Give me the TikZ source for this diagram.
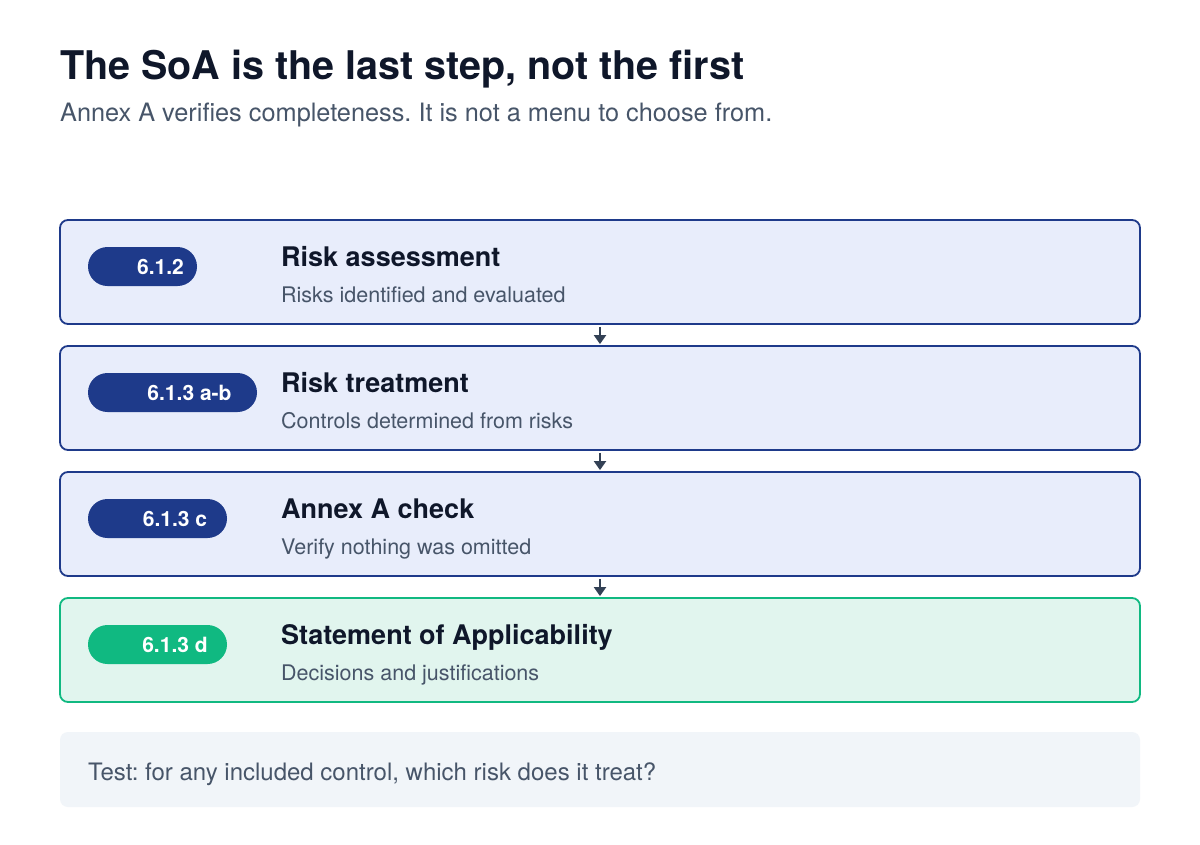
\documentclass[tikz,border=0pt]{standalone}
\usepackage{fontspec}
\setmainfont{TeX Gyre Heros}
\usetikzlibrary{arrows.meta}
\frenchspacing
\definecolor{navy}{HTML}{1E3A8A}
\definecolor{boxfill}{HTML}{E8EDFB}
\definecolor{ink}{HTML}{0F172A}
\definecolor{slate}{HTML}{475569}
\definecolor{emer}{HTML}{10B981}
\definecolor{greenfill}{HTML}{E1F5EE}
\definecolor{notefill}{HTML}{F1F5F9}
\definecolor{arrowc}{HTML}{334155}
\tikzset{
  stepbox/.style={draw=navy, fill=boxfill, line width=1.8pt, rounded corners=8pt,
    minimum width=1080pt, minimum height=104pt, inner sep=0pt},
  soabox/.style={stepbox, draw=emer, fill=greenfill},
  pill/.style={fill=navy, rounded corners=19.5pt, inner sep=0pt, minimum height=39pt},
  pillg/.style={pill, fill=emer},
  pilltext/.style={text=white, font=\bfseries\fontsize{21}{25}\selectfont, inner sep=0pt, anchor=base},
  steptitle/.style={text=ink, font=\bfseries\fontsize{27}{32}\selectfont, inner sep=0pt, anchor=base west},
  stepsub/.style={text=slate, font=\fontsize{21.5}{26}\selectfont, inner sep=0pt, anchor=base west},
  flow/.style={draw=arrowc, line width=2pt, -{Triangle[width=12pt,length=9pt]}, shorten >=1pt, shorten <=2pt}
}
\begin{document}
\begin{tikzpicture}[x=1pt,y=-1pt]
\useasboundingbox[fill=white] (0,0) rectangle (1200,844);
% title
\node[text=ink, font=\bfseries\fontsize{39.5}{47}\selectfont, inner sep=0pt, anchor=base west] (title) at (60,79) {The SoA is the last step, not the first};
\node[text=slate, font=\fontsize{25.3}{30}\selectfont, inner sep=0pt, anchor=base west] (subtitle) at (60,121) {Annex A verifies completeness. It is not a menu to choose from.};
% boxes
\node[stepbox] (b1) at (600,272) {};
\node[stepbox] (b2) at (600,398) {};
\node[stepbox] (b3) at (600,524) {};
\node[soabox]  (b4) at (600,650) {};
% pills
\node[pill, minimum width=109pt] (p1) at (142.5,266.5) {};
\node[pilltext] (p1t) at (160.5,274) {6.1.2};
\node[pill, minimum width=169pt] (p2) at (172.5,392.5) {};
\node[pilltext] (p2t) at (189.5,400) {6.1.3 a-b};
\node[pill, minimum width=139pt] (p3) at (157.5,518.5) {};
\node[pilltext] (p3t) at (175,526) {6.1.3 c};
\node[pillg, minimum width=139pt] (p4) at (157.5,644.5) {};
\node[pilltext] (p4t) at (175,652) {6.1.3 d};
% texts
\node[steptitle] (t1) at (281,266) {Risk assessment};
\node[stepsub]   (s1) at (281,302) {Risks identified and evaluated};
\node[steptitle] (t2) at (281,392) {Risk treatment};
\node[stepsub]   (s2) at (281,428) {Controls determined from risks};
\node[steptitle] (t3) at (281,518) {Annex A check};
\node[stepsub]   (s3) at (281,554) {Verify nothing was omitted};
\node[steptitle] (t4) at (281,644) {Statement of Applicability};
\node[stepsub]   (s4) at (281,680) {Decisions and justifications};
% arrows
\draw[flow] (b1.south) -- (b2.north);
\draw[flow] (b2.south) -- (b3.north);
\draw[flow] (b3.south) -- (b4.north);
% note
\node[fill=notefill, rounded corners=8pt, minimum width=1080pt, minimum height=75pt, inner sep=0pt] (note) at (600,769.5) {};
\node[text=slate, font=\fontsize{24}{29}\selectfont, inner sep=0pt, anchor=base west] (notetext) at (88,780) {Test: for any included control, which risk does it treat?};
\end{tikzpicture}
\end{document}
